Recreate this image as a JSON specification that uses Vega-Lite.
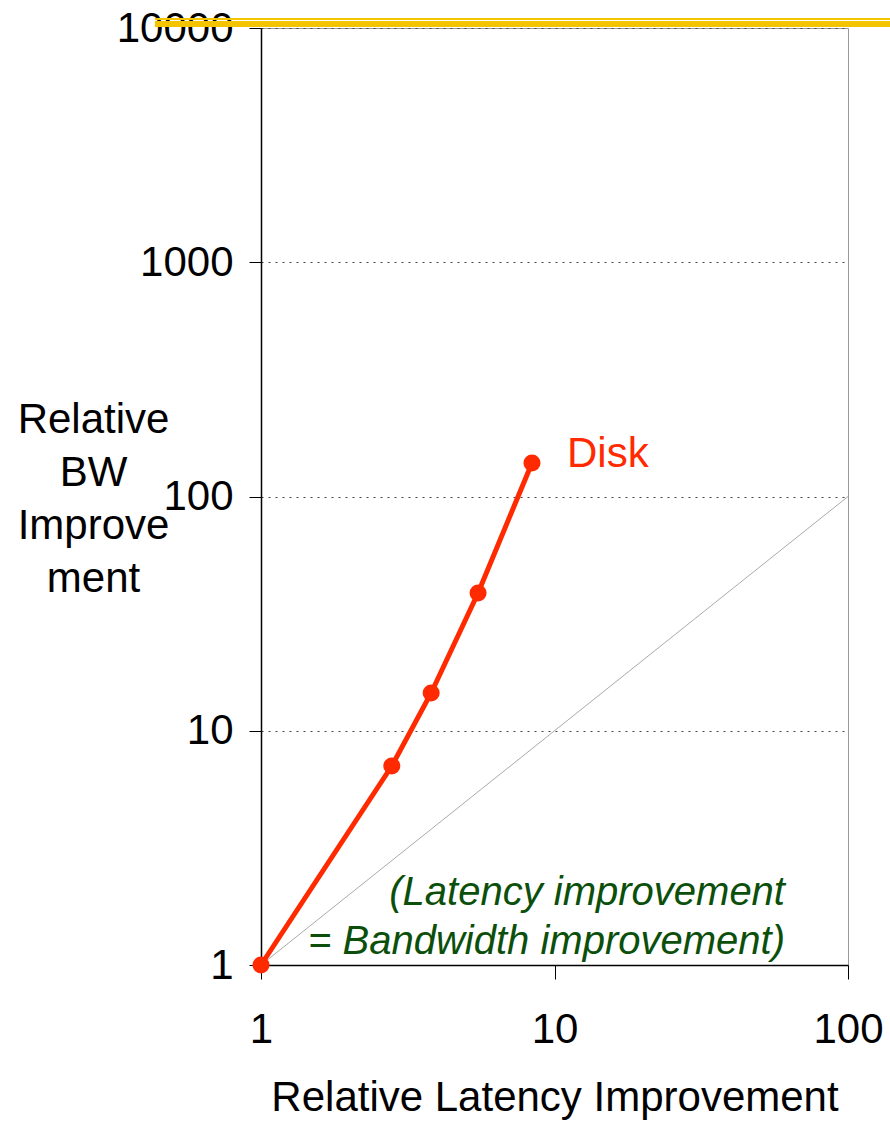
{
  "$schema": "https://vega.github.io/schema/vega-lite/v6.json",
  "autosize": {"type": "none"},
  "width": 587,
  "height": 937,
  "padding": {"left": 261, "top": 28, "right": 42, "bottom": 157},
  "background": "white",
  "config": {
    "view": {"stroke": "#999", "strokeWidth": 1},
    "font": "Liberation Sans",
    "axis": {"zindex": 1}
  },
  "datasets": {
    "disk": [
      {"latency": 1, "bw": 1},
      {"latency": 2.79, "bw": 7.07},
      {"latency": 3.8, "bw": 14.5},
      {"latency": 5.49, "bw": 38.7},
      {"latency": 8.38, "bw": 139}
    ],
    "diagonal": [
      {"latency": 1, "bw": 1},
      {"latency": 100, "bw": 100}
    ],
    "banner": [
      {"latency": 0.435, "latency2": 150, "bw": 10000}
    ],
    "label": [
      {"latency": 8.38, "bw": 139, "text": "Disk"}
    ],
    "note": [
      {"latency": 61, "bw": 2.03, "text": "(Latency improvement"},
      {"latency": 61, "bw": 1.25, "text": "= Bandwidth improvement)"}
    ]
  },
  "encoding": {
    "x": {
      "field": "latency",
      "type": "quantitative",
      "scale": {"type": "log", "domain": [1, 100], "nice": false},
      "axis": {
        "title": "Relative Latency Improvement",
        "titleFontSize": 42,
        "titleFontWeight": "normal",
        "titleColor": "black",
        "titleX": 293.5,
        "titleY": 145,
        "titleAlign": "center",
        "titleBaseline": "alphabetic",
        "values": [1, 10, 100],
        "format": "d",
        "labelFontSize": 42,
        "labelColor": "black",
        "labelPadding": 30,
        "labelBaseline": "top",
        "labelFlush": false,
        "labelOverlap": false,
        "tickSize": 14,
        "tickColor": "black",
        "tickWidth": 1,
        "domainColor": "black",
        "domainWidth": 1.5,
        "grid": false
      }
    },
    "y": {
      "field": "bw",
      "type": "quantitative",
      "scale": {"type": "log", "domain": [1, 10000], "nice": false},
      "axis": {
        "title": ["Relative", "BW", "Improve", "ment"],
        "titleFontSize": 42,
        "titleFontWeight": "normal",
        "titleColor": "black",
        "titleAngle": 0,
        "titleAlign": "center",
        "titleBaseline": "alphabetic",
        "titleX": -168,
        "titleY": 404,
        "titleLineHeight": 53,
        "values": [1, 10, 100, 1000, 10000],
        "format": "d",
        "labelFontSize": 42,
        "labelColor": "black",
        "labelPadding": 16,
        "labelFlush": false,
        "labelOverlap": false,
        "tickSize": 12,
        "tickColor": "black",
        "tickWidth": 1,
        "domainColor": "black",
        "domainWidth": 1.5,
        "grid": true,
        "gridColor": "#444",
        "gridDash": [2, 5],
        "gridWidth": 1
      }
    }
  },
  "layer": [
    {
      "data": {"name": "banner"},
      "mark": {"type": "rule", "color": "#f5c400", "strokeWidth": 6, "yOffset": -4},
      "encoding": {"x2": {"field": "latency2"}}
    },
    {
      "data": {"name": "banner"},
      "mark": {"type": "rule", "color": "#f5c400", "strokeWidth": 2, "yOffset": -9},
      "encoding": {"x2": {"field": "latency2"}}
    },
    {
      "data": {"name": "diagonal"},
      "mark": {"type": "line", "color": "#aaaaaa", "strokeWidth": 1}
    },
    {
      "data": {"name": "disk"},
      "mark": {
        "type": "line",
        "color": "#ff2a00",
        "strokeWidth": 5,
        "interpolate": "linear",
        "point": {"filled": true, "size": 290, "color": "#ff2a00", "opacity": 1}
      }
    },
    {
      "data": {"name": "label"},
      "mark": {"type": "text", "color": "#ff2a00", "fontSize": 42, "align": "left", "baseline": "middle", "dx": 35, "dy": -9},
      "encoding": {"text": {"field": "text"}}
    },
    {
      "data": {"name": "note"},
      "mark": {"type": "text", "color": "#0b4f0b", "fontSize": 40, "fontStyle": "italic", "align": "right", "baseline": "middle"},
      "encoding": {"text": {"field": "text"}}
    }
  ]
}
